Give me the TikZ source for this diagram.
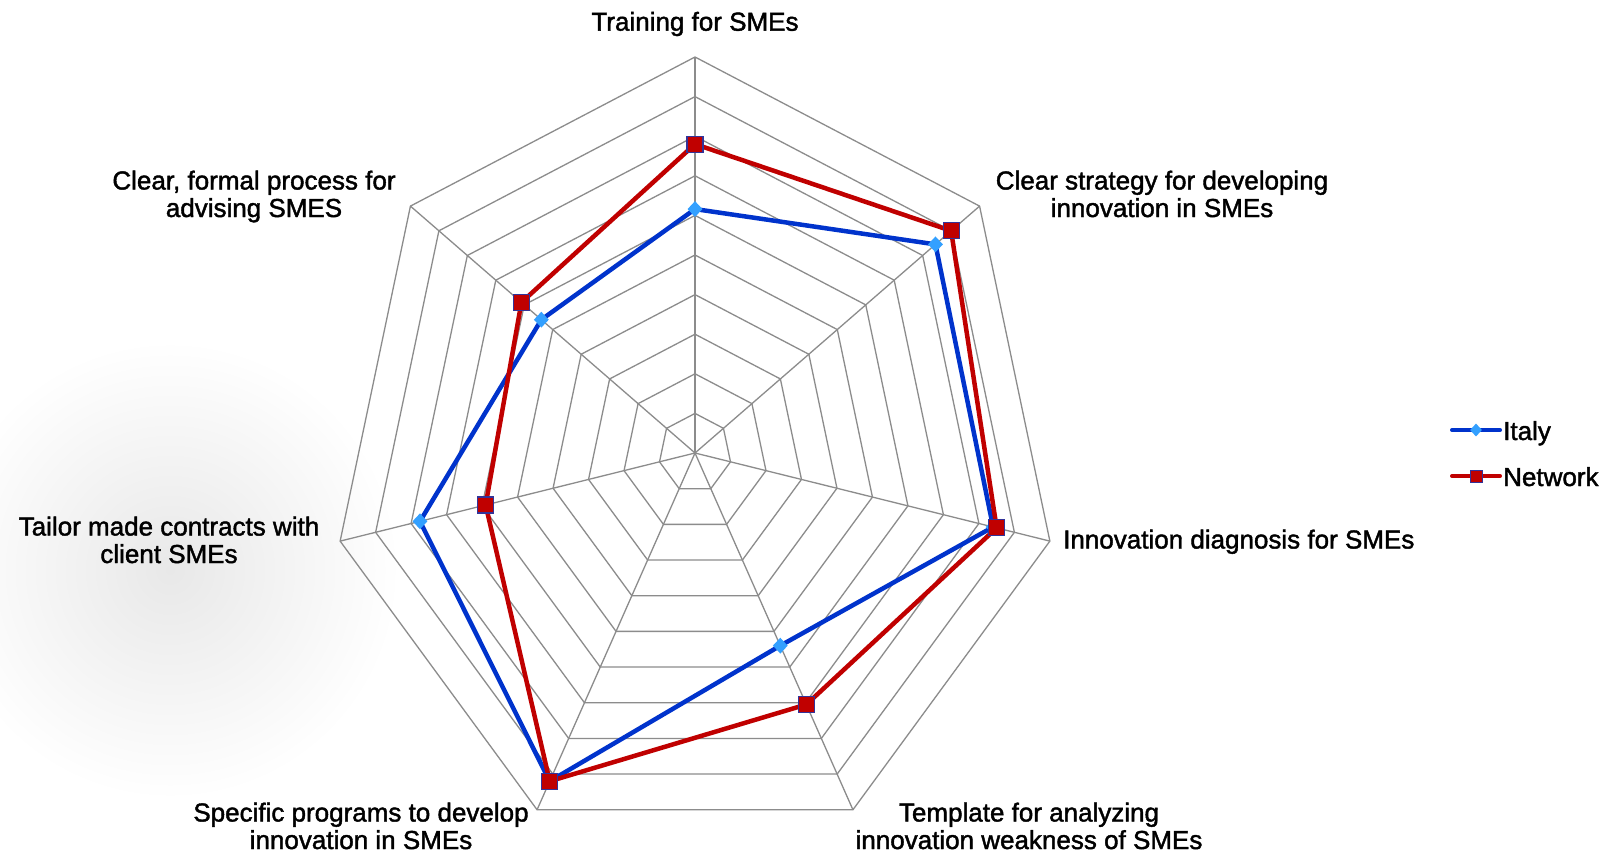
\documentclass[tikz,border=0pt]{standalone}
\usepackage{fontspec}
\usetikzlibrary{shapes.geometric}
\newfontfamily\lblfont{Liberation Sans}[FakeBold=1.6]
\definecolor{gridgray}{HTML}{8C8C8C}
\definecolor{itblue}{HTML}{0033CC}
\definecolor{itlight}{HTML}{33A0FF}
\definecolor{nwred}{HTML}{C00000}
\definecolor{nwborder}{HTML}{333399}
\begin{document}
\begin{tikzpicture}[x=1pt,y=-1pt,
  grid/.style={draw=gridgray, line width=1.3pt},
  itline/.style={draw=itblue, line width=4.5pt, line join=round},
  nwline/.style={draw=nwred, line width=4.5pt, line join=round},
  itmark/.style={shape=diamond, fill=itlight, inner sep=0pt, minimum width=15pt, minimum height=16pt},
  nwmark/.style={shape=rectangle, fill=nwred, draw=nwborder, line width=1.2pt, inner sep=0pt, minimum size=16pt},
  lbl/.style={font={\lblfont\fontsize{26}{27.5}\selectfont}, align=center, inner sep=0pt, anchor=base}]
\useasboundingbox (0,0) rectangle (1619,856);
\fill[white] (0,0) rectangle (1619,856);
\shade[inner color=black!9, outer color=white] (170,570) circle (230);
% grid coordinates
\coordinate (C) at (695,453);
\foreach \k in {0,...,6}{
  \foreach \l in {1,...,10}{
    \coordinate (g\l-\k) at ({695+364*\l/10*sin(\k*360/7)},{453-396*\l/10*cos(\k*360/7)});
  }
}
\foreach \l in {1,...,10}{
  \draw[grid] (g\l-0) -- (g\l-1) -- (g\l-2) -- (g\l-3) -- (g\l-4) -- (g\l-5) -- (g\l-6) -- cycle;
}
\foreach \k in {0,...,6}{
  \draw[grid] (C) -- (g10-\k);
}
% data
\foreach \k/\v in {0/0.616,1/0.845,2/0.84,3/0.54,4/0.92,5/0.775,6/0.54}{
  \coordinate (i\k) at ({695+364*\v*sin(\k*360/7)},{453-396*\v*cos(\k*360/7)});
}
\foreach \k/\v in {0/0.78,1/0.90,2/0.85,3/0.705,4/0.92,5/0.59,6/0.61}{
  \coordinate (n\k) at ({695+364*\v*sin(\k*360/7)},{453-396*\v*cos(\k*360/7)});
}
\draw[itline] (i0) -- (i1) -- (i2) -- (i3) -- (i4) -- (i5) -- (i6) -- cycle;
\foreach \k in {0,...,6}{ \node[itmark] (im\k) at (i\k) {}; }
\draw[nwline] (n0) -- (n1) -- (n2) -- (n3) -- (n4) -- (n5) -- (n6) -- cycle;
\foreach \k in {0,...,6}{ \node[nwmark] (nm\k) at (n\k) {}; }
% labels (base = baseline of last line)
\node[lbl] (t0) at (695,30.7) {Training for SMEs};
\node[lbl] (t1) at (1162,217) {Clear strategy for developing\\innovation in SMEs};
\node[lbl, anchor=base west] (t2) at (1063,548.5) {Innovation diagnosis for SMEs};
\node[lbl] (t3) at (1029,849) {Template for analyzing\\innovation weakness of SMEs};
\node[lbl] (t4) at (361,849) {Specific programs to develop\\innovation in SMEs};
\node[lbl] (t5) at (169,563) {Tailor made contracts with\\client SMEs};
\node[lbl] (t6) at (254,217) {Clear, formal process for\\advising SMES};
% legend
\coordinate (la1) at (1452,430);
\coordinate (lb1) at (1500,430);
\coordinate (la2) at (1452,476);
\coordinate (lb2) at (1500,476);
\draw[itline, line width=4pt, line cap=round] (la1) -- (lb1);
\node[itmark, minimum width=12pt, minimum height=13pt] (lm1) at (1476,430) {};
\node[lbl, anchor=base west] (lt1) at (1503,440) {Italy};
\draw[nwline, line width=4pt, line cap=round] (la2) -- (lb2);
\node[nwmark, minimum size=12pt, line width=1pt] (lm2) at (1476,476) {};
\node[lbl, anchor=base west] (lt2) at (1503,486) {Network};
\end{tikzpicture}
\end{document}
